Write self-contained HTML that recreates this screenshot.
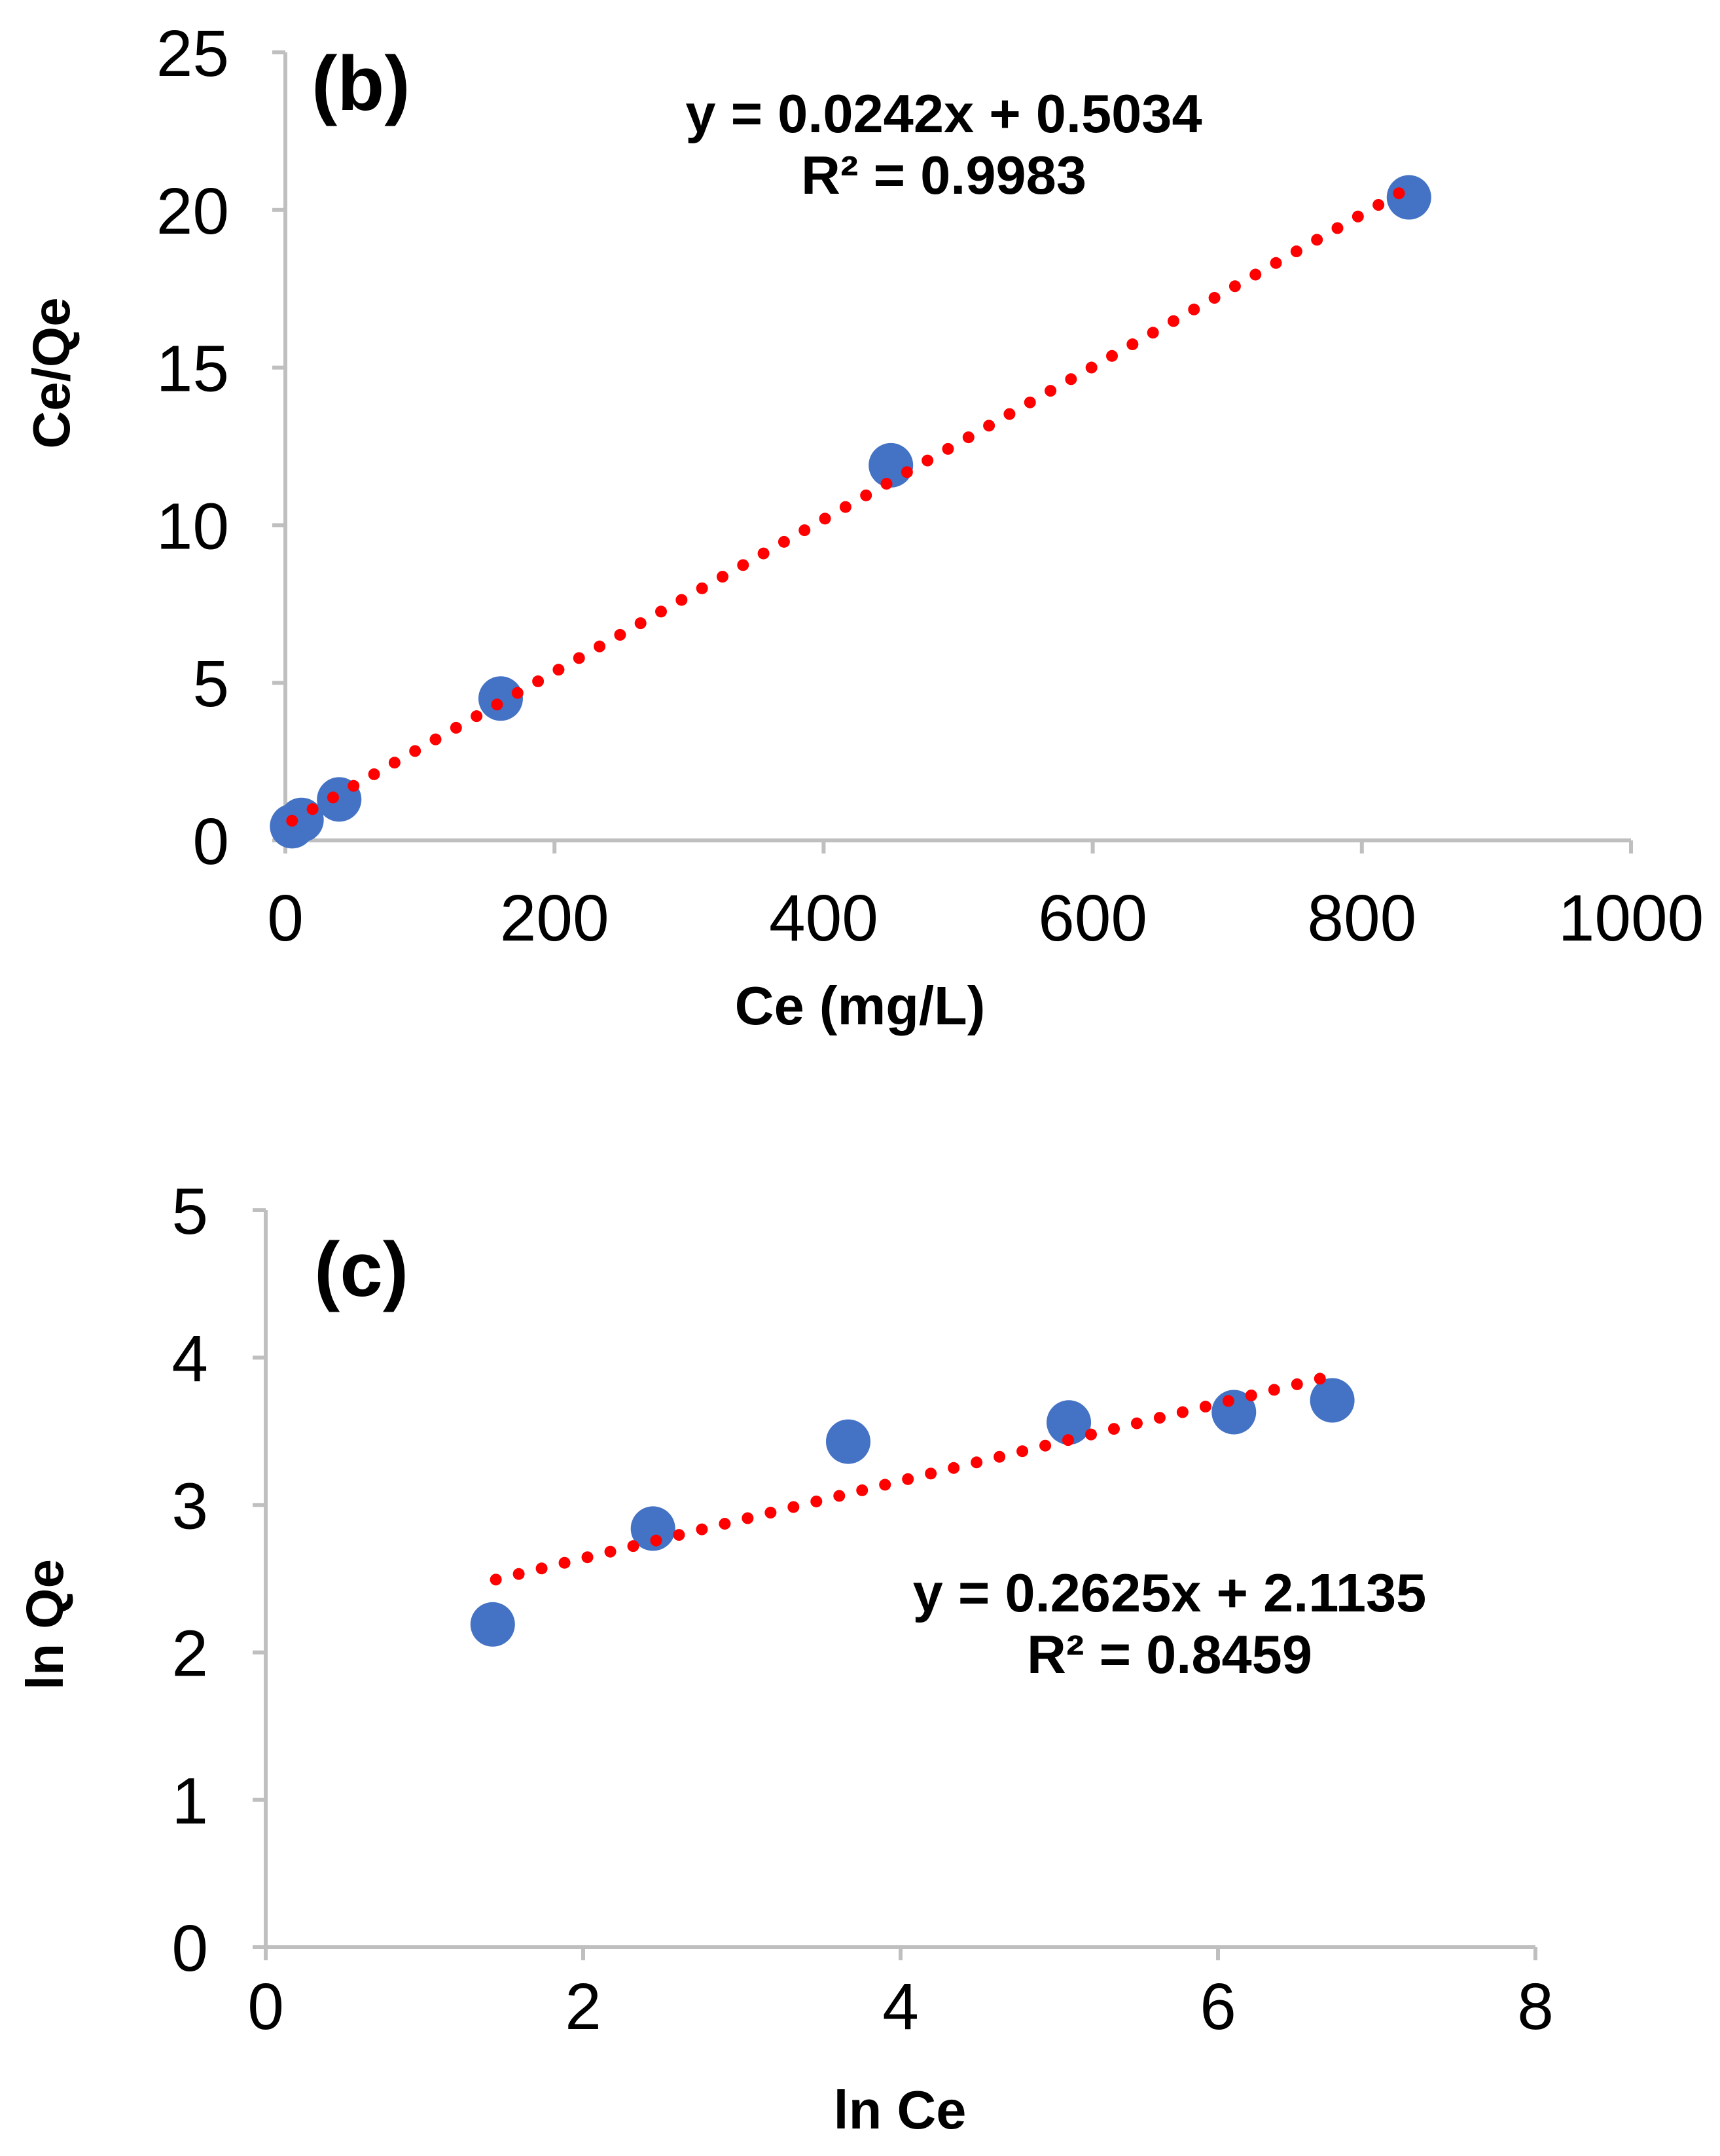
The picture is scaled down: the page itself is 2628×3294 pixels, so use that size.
<!DOCTYPE html>
<html><head><meta charset="utf-8"><style>
html,body{margin:0;padding:0;background:#fff}
svg{display:block}
text{font-family:"Liberation Sans",Arial,sans-serif;fill:#000}
</style></head><body>
<svg id="c" width="2628" height="3294" viewBox="0 0 2628 3294" xmlns="http://www.w3.org/2000/svg"></svg>
<script>
const bX=[5,12,40,160,450,835];
const bY=[0.45,0.65,1.3,4.5,11.9,20.4];
const bXTicks=[0,200,400,600,800,1000];
const bYTicks=[0,5,10,15,20,25];
const bSlope=0.0242, bIntercept=0.5034;
const cX=[1.43,2.44,3.67,5.06,6.1,6.72];
const cY=[2.19,2.84,3.43,3.56,3.63,3.71];
const cXTicks=[0,2,4,6,8];
const cYTicks=[0,1,2,3,4,5];
const cSlope=0.2625, cIntercept=2.1135;

const svg=document.getElementById('c');
const NS='http://www.w3.org/2000/svg';
function mk(tag,attrs,parent,text){const e=document.createElementNS(NS,tag);for(const k in attrs)e.setAttribute(k,attrs[k]);if(text!==undefined)e.textContent=text;(parent||svg).appendChild(e);return e;}

function chart(o){
  const g=mk('g',{});
  
  
  const sx=v=>o.x0+(v-o.xmin)/(o.xmax-o.xmin)*(o.x1-o.x0);
  const sy=v=>o.y0-(v-o.ymin)/(o.ymax-o.ymin)*(o.y0-o.y1);
  const ax=mk('g',{},g);
  
  
  mk('line',{x1:o.x0,y1:o.y0,x2:o.x0,y2:o.y1,stroke:'#bfbfbf','stroke-width':6},ax);
  mk('line',{x1:o.x0,y1:o.y0,x2:o.x1,y2:o.y0,stroke:'#bfbfbf','stroke-width':6},ax);
  o.yt.forEach(v=>{
    mk('line',{x1:o.x0-20,y1:sy(v),x2:o.x0,y2:sy(v),stroke:'#bfbfbf','stroke-width':6},ax);
    const t=mk('text',{x:o.ylx,y:sy(v)+36,'font-size':100,'text-anchor':'end'},ax,String(v));
    
    
  });
  o.xt.forEach(v=>{
    mk('line',{x1:sx(v),y1:o.y0,x2:sx(v),y2:o.y0+20,stroke:'#bfbfbf','stroke-width':6},ax);
    const t=mk('text',{x:sx(v),y:o.xly,'font-size':100,'text-anchor':'middle'},ax,String(v));
    
    
  });
  const pts=mk('g',{},g);
  
  
  o.xs.forEach((v,i)=>{
    const c=mk('circle',{cx:sx(v),cy:sy(o.ys[i]),r:34,fill:'#4472c4'},pts);
    
    
  });
  const tr=mk('g',{},g);
  
  
  const xa=o.tx0,xb=o.tx1;
  const X1=sx(xa),Y1=sy(o.m*xa+o.b),X2=sx(xb),Y2=sy(o.m*xb+o.b);
  mk('line',{x1:X1,y1:Y1,x2:X2,y2:Y2,stroke:'#ff0000','stroke-width':18,'stroke-linecap':'round','stroke-dasharray':'0 36'},tr);
  const eq=mk('text',{x:o.eqx,y:o.eqy,'font-size':83,'font-weight':'bold','text-anchor':'middle'},g,'y = '+o.m+'x + '+o.b);
  
  
  const r2=mk('text',{x:o.eqx,y:o.eqy+94,'font-size':83,'font-weight':'bold','text-anchor':'middle'},g,'R² = '+o.r2);
  
  
  const lb=mk('text',{x:o.lbx,y:o.lby,'font-size':118,'font-weight':'bold'},g,o.label);
  
  
  const xt=mk('text',{x:o.xtx,y:o.xty,'font-size':83,'font-weight':'bold','text-anchor':'middle'},g,o.xtitle);
  
  
  const yt=mk('text',{x:0,y:0,'font-size':80,'font-weight':'bold','text-anchor':'middle',transform:'translate('+o.ytx+','+o.yty+') rotate(-90)'},g,o.ytitle);
  
  
}
chart({name:'chart-b',x0:436,x1:2492,y0:1284,y1:80,xmin:0,xmax:1000,ymin:0,ymax:25,xt:bXTicks,yt:bYTicks,xs:bX,ys:bY,m:bSlope,b:bIntercept,r2:'0.9983',tx0:5,tx1:840,ylx:350,xly:1437,eqx:1442,eqy:202,lbx:476,lby:168,label:'(b)',xtitle:'Ce (mg/L)',xtx:1314,xty:1565,ytitle:'Ce/Qe',ytx:106,yty:570});
chart({name:'chart-c',x0:406,x1:2346,y0:2975,y1:1849,xmin:0,xmax:8,ymin:0,ymax:5,xt:cXTicks,yt:cYTicks,xs:cX,ys:cY,m:cSlope,b:cIntercept,r2:'0.8459',tx0:1.45,tx1:6.7,ylx:318,xly:3100,eqx:1787,eqy:2462,lbx:480,lby:1980,label:'(c)',xtitle:'ln Ce',xtx:1375,xty:3252,ytitle:'ln Qe',ytx:96,yty:2482});
</script>
</body></html>
